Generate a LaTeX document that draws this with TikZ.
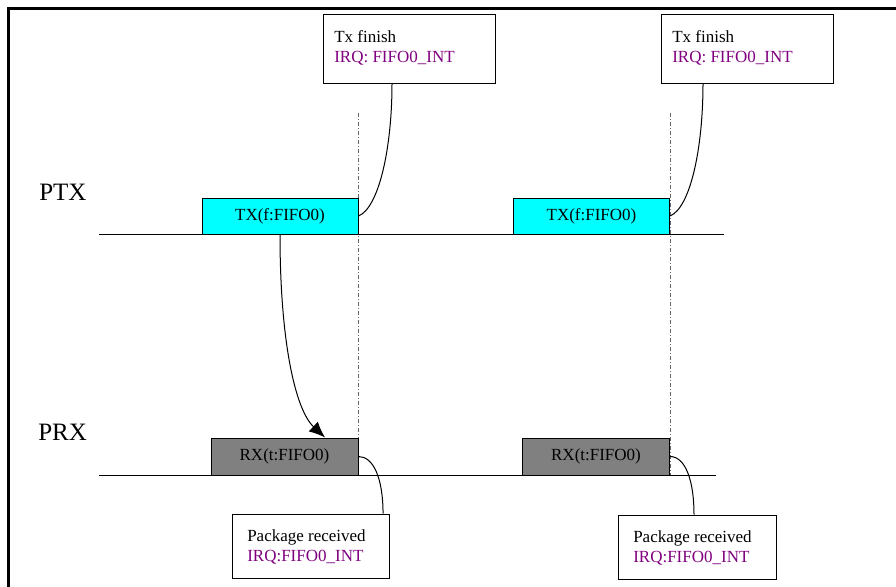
\documentclass[tikz,border=0pt]{standalone}
\usepackage{fontspec}
\setmainfont{Liberation Serif}
\usetikzlibrary{arrows.meta}

\definecolor{irqpurple}{RGB}{128,0,128}
\definecolor{rxgray}{RGB}{128,128,128}
\definecolor{txcyan}{RGB}{0,255,255}
\newcommand{\boxfont}{\fontsize{12.75}{15}\selectfont}
\newcommand{\lanefont}{\fontsize{18.75}{22}\selectfont}

\tikzset{
  lane/.style={line width=0.75pt},
  marker/.style={line width=0.6pt, gray!80!black, dash pattern=on 3pt off 1.5pt on 0.75pt off 1.5pt},
  txbox/.style={draw, line width=0.75pt, fill=txcyan, minimum width=117pt, minimum height=27pt, inner sep=0pt, font=\boxfont},
  rxbox/.style={draw, line width=0.75pt, fill=rxgray, minimum width=110.25pt, minimum height=27.75pt, inner sep=0pt, font=\boxfont},
  notebox/.style={draw, line width=0.75pt, fill=white, inner sep=0pt},
  notetext/.style={anchor=north west, inner sep=0pt, align=left, font=\boxfont},
  link/.style={line width=0.75pt}
}

\begin{document}
\begin{tikzpicture}[x=0.75pt, y=-0.75pt]
  \useasboundingbox (0,0) rectangle (896,586);
  \draw[line width=2.25pt] (8,600) -- (8,8) -- (910,8); % frame

  % lanes
  \node[anchor=base west, inner sep=0pt, font=\lanefont] (ptx) at (39,200) {PTX};
  \node[anchor=base west, inner sep=0pt, font=\lanefont] (prx) at (38,440) {PRX};
  \coordinate (ptxstart) at (99,234);
  \coordinate (ptxend) at (724,234);
  \coordinate (prxstart) at (99,475);
  \coordinate (prxend) at (716,475);
  \draw[lane] (ptxstart) -- (ptxend);
  \draw[lane] (prxstart) -- (prxend);

  % markers
  \coordinate (m1top) at (358,113);
  \coordinate (m1bot) at (358,475);
  \coordinate (m2top) at (670,113);
  \coordinate (m2bot) at (670,475);
  \draw[marker] (m1top) -- (m1bot);
  \draw[marker] (m2top) -- (m2bot);

  % frames
  \node[txbox] (tx1) at (280,216) {TX(f:FIFO0)};
  \node[txbox] (tx2) at (591.5,216) {TX(f:FIFO0)};
  \node[rxbox] (rx1) at (284.5,456.5) {RX(t:FIFO0)};
  \node[rxbox] (rx2) at (596,456.5) {RX(t:FIFO0)};

  % notes
  \node[notebox, minimum width=129pt, minimum height=51.75pt] (note1) at (409,48.5) {};
  \node[notebox, minimum width=129pt, minimum height=51.75pt] (note2) at (747,48.5) {};
  \node[notetext] (note1text) at (334,30.5) {Tx finish\\\textcolor{irqpurple}{IRQ: FIFO0\_INT}};
  \node[notetext] (note2text) at (672,30.5) {Tx finish\\\textcolor{irqpurple}{IRQ: FIFO0\_INT}};
  \node[notebox, minimum width=117.75pt, minimum height=48pt] (pkg1) at (310.5,546) {};
  \node[notebox, minimum width=118.5pt, minimum height=48pt] (pkg2) at (697,547) {};
  \node[notetext] (pkg1text) at (247,529.5) {Package received\\\textcolor{irqpurple}{IRQ:FIFO0\_INT}};
  \node[notetext] (pkg2text) at (633,530.5) {Package received\\\textcolor{irqpurple}{IRQ:FIFO0\_INT}};

  % links
  \draw[link] ([xshift=-12.75pt]note1.south) .. controls +(0,66) and +(20,-8) .. (tx1.east);
  \draw[link] ([xshift=-33pt]note2.south) .. controls +(0,66) and +(20,-8) .. (tx2.east);
  \draw[link] (rx1.east) .. controls +(15,0) and +(0,-35) .. ([xshift=54.4pt]pkg1.north);
  \draw[link] (rx2.east) .. controls +(15,0) and +(0,-35) .. ([xshift=-2.25pt]pkg2.north);
  \draw[link, -{Latex[length=12pt, width=10pt]}] (tx1.south) .. controls +(0,106) and +(-30,-28) .. ([xshift=30.4pt]rx1.north);
\end{tikzpicture}
\end{document}
